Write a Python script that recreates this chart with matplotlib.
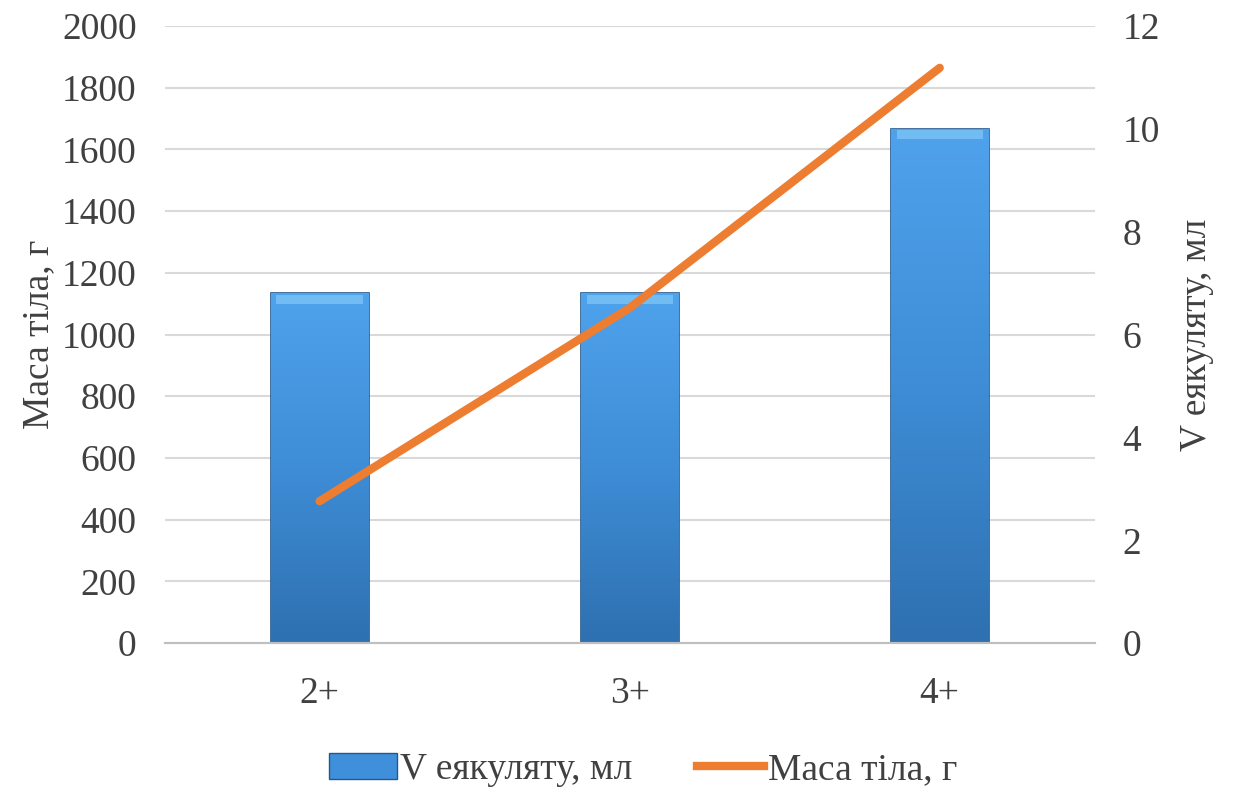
import numpy as np
import matplotlib.pyplot as plt
from matplotlib.colors import LinearSegmentedColormap
from matplotlib.patches import Patch
from matplotlib.lines import Line2D

categories = ["2+", "3+", "4+"]
volume_ml = [6.8, 6.8, 10.0]
body_mass_g = [460, 1086, 1864]

plt.rcParams['font.family'] = ['Liberation Serif', 'DejaVu Serif']
text_color = '#404040'
fs = 27

fig = plt.figure(figsize=(12.37, 8.09), dpi=100)
ax = fig.add_axes([0.133, 0.205, 0.752, 0.763])
ax2 = ax.twinx()

x = list(range(len(categories)))

# bars on the right axis (volume), with a vertical gradient fill
bars = ax2.bar(x, volume_ml, width=0.316, color='#3F8FDA', edgecolor='#24578C',
               linewidth=1.2, zorder=2)
cmap = LinearSegmentedColormap.from_list('barblue', ['#2E70B0', '#3E8DD6', '#4FA2EC'])
grad = np.linspace(0, 1, 256).reshape(-1, 1)
for b in bars:
    x0, w, h = b.get_x(), b.get_width(), b.get_height()
    im = ax2.imshow(grad, extent=[x0, x0 + w, 0, h], origin='lower', aspect='auto',
                    cmap=cmap, zorder=2.1)
    im.set_clip_path(b)
    # lighter bevel strip at the top
    ax2.fill_between([x0 + w * 0.06, x0 + w * 0.94], h - 0.2, h - 0.03,
                     color='#8ACFF7', alpha=0.6, linewidth=0, zorder=2.2)
ax2.set_ylim(0, 12)
ax2.set_yticks(range(0, 13, 2))

# line on the left axis (body mass), drawn above bars
ax.set_zorder(ax2.get_zorder() + 1)
ax.patch.set_visible(False)
ax.plot(x, body_mass_g, color='#ED7D31', linewidth=6, solid_capstyle='round', zorder=3)
ax.set_ylim(0, 2000)
ax.set_yticks(range(0, 2001, 200))
ax.set_xlim(-0.5, 2.5)
ax.set_xticks(x)
ax.set_xticklabels(categories)

# gridlines from the left axis, behind everything
for v in range(200, 2001, 200):
    ax2.axhline(v / 2000 * 12, color='#D9D9D9', linewidth=1.5, zorder=0)

for a in (ax, ax2):
    for s in ('top', 'left', 'right'):
        a.spines[s].set_visible(False)
    a.spines['bottom'].set_color('#BFBFBF')
    a.spines['bottom'].set_linewidth(1.5)
    a.tick_params(length=0, labelsize=fs, colors=text_color, pad=20)
ax.tick_params(axis='x', pad=24)

ax.set_ylabel("Маса тіла, г", fontsize=fs, color=text_color, labelpad=4)
ax2.set_ylabel("V еякуляту, мл", fontsize=fs, color=text_color, labelpad=14)

handles = [Patch(facecolor='#3F8FDA', edgecolor='#24578C', label="V еякуляту, мл"),
           Line2D([0], [0], color='#ED7D31', linewidth=6, label="Маса тіла, г")]
fig.legend(handles=handles, loc='lower center', bbox_to_anchor=(0.52, -0.015), ncol=2,
           frameon=False, fontsize=fs, handlelength=1.8, handletextpad=0.1,
           columnspacing=1.7, labelcolor=text_color)

fig.savefig("out.png", dpi=100)
